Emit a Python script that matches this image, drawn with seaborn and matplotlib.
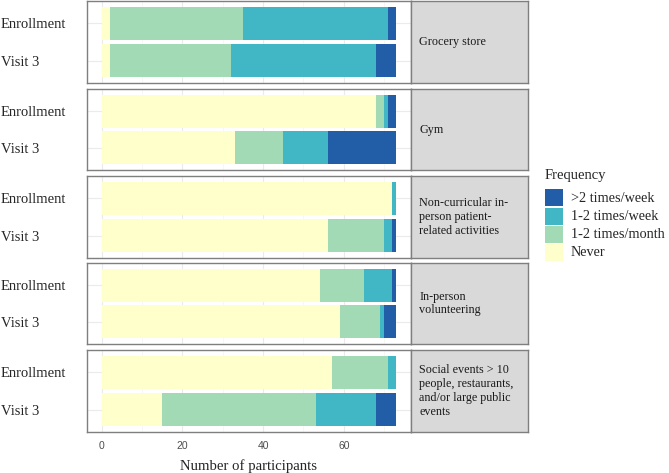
import matplotlib
matplotlib.use("Agg")
import matplotlib.pyplot as plt
import seaborn as sns
import pandas as pd
import numpy as np
from matplotlib.patches import Rectangle

sns.set_style("white")
plt.rcParams["font.family"] = ["Liberation Serif", "DejaVu Serif"]

activities = ["Grocery store", "Gym",
              "Non-curricular in-\nperson patient-\nrelated activities",
              "In-person\nvolunteering",
              "Social events > 10\npeople, restaurants,\nand/or large public\nevents"]
timepoints = ["Enrollment", "Visit 3"]
levels = ["Never", "1-2 times/month", "1-2 times/week", ">2 times/week"]
colors = ["#FFFFCC", "#A1DAB4", "#41B6C4", "#225EA8"]

# counts per activity: [Enrollment, Visit 3] for each level
never = [[2, 2], [68, 33], [72, 56], [54, 59], [57, 15]]
per_month = [[33, 30], [2, 12], [0, 14], [11, 10], [14, 38]]
per_week = [[36, 36], [1, 11], [1, 2], [7, 1], [2, 15]]
over2 = [[2, 5], [2, 17], [0, 1], [1, 3], [0, 5]]

xticks = [0, 20, 40, 60]

rows = []
for i, act in enumerate(activities):
    for j, tp in enumerate(timepoints):
        vals = [never[i][j], per_month[i][j], per_week[i][j], over2[i][j]]
        cum = np.cumsum(vals)
        for k, lev in enumerate(levels):
            rows.append(dict(activity=act, time=tp, level=lev, count=vals[k], cum=cum[k]))
df = pd.DataFrame(rows)

W, H = 669, 473
fig = plt.figure(figsize=(W / 100, H / 100), dpi=100)

panel_left, panel_right, strip_right = 87, 411, 528
panels_y = [(1, 83), (89, 170), (176, 258), (263, 344), (350, 432)]
xmax_total = df["cum"].max()
xlim = (-0.05 * xmax_total, xmax_total * 1.05)

for i, act in enumerate(activities):
    y0, y1 = panels_y[i]
    ax = fig.add_axes([panel_left / W, 1 - y1 / H, (panel_right - panel_left) / W, (y1 - y0) / H])
    sub = df[df["activity"] == act]
    for k in range(len(levels) - 1, -1, -1):
        s = sub[sub["level"] == levels[k]]
        sns.barplot(data=s, x="cum", y="time", order=timepoints, color=colors[k],
                    orient="h", width=0.9, linewidth=0, saturation=1, ax=ax, errorbar=None)
    ax.set_xlim(xlim)
    ax.set_ylim(1.6, -0.6)
    ax.set_xticks(xticks)
    ax.set_xticks([10, 30, 50, 70], minor=True)
    ax.grid(True, which="major", color="#EBEBEB", linewidth=0.8)
    ax.grid(True, which="minor", axis="x", color="#F4F4F4", linewidth=0.5)
    ax.set_axisbelow(True)
    ax.set_xlabel("")
    ax.set_ylabel("")
    for sp in ax.spines.values():
        sp.set_color("#7F7F7F")
        sp.set_linewidth(1.0)
    ax.tick_params(axis="y", length=3, color="#333333", labelsize=10.5, pad=59)
    for lab in ax.get_yticklabels():
        lab.set_horizontalalignment("left")
    ax.tick_params(axis="x", length=3 if i == 4 else 0, color="#333333", labelsize=7.5,
                   labelcolor="#4D4D4D", labelbottom=(i == 4))
    if i == 4:
        for lab in ax.get_xticklabels():
            lab.set_fontfamily(["Liberation Sans", "DejaVu Sans"])
    # strip
    sax = fig.add_axes([panel_right / W, 1 - y1 / H, (strip_right - panel_right) / W, (y1 - y0) / H])
    sax.set_facecolor("#D9D9D9")
    sax.set_xticks([])
    sax.set_yticks([])
    for sp in sax.spines.values():
        sp.set_color("#7F7F7F")
        sp.set_linewidth(1.0)
    sax.text(0.07, 0.5, act, ha="left", va="center", fontsize=8.7, linespacing=1.2,
             transform=sax.transAxes, color="#1A1A1A")

fig.text((panel_left + panel_right) / 2 / W, 1 - 466 / H, "Number of participants",
         ha="center", va="center", fontsize=10.6)

# legend
fig.text(545 / W, 1 - 176 / H, "Frequency", ha="left", va="center", fontsize=10.5)
legend_levels = list(reversed(levels))
legend_colors = list(reversed(colors))
for k, (lev, c) in enumerate(zip(legend_levels, legend_colors)):
    top = 189 + k * 18.3
    fig.patches.append(Rectangle((545 / W, 1 - (top + 17.5) / H), 18 / W, 17 / H,
                                 transform=fig.transFigure, facecolor=c, edgecolor="none"))
    fig.text(571 / W, 1 - (top + 9) / H, lev, ha="left", va="center", fontsize=10.3)

fig.savefig("out.png", dpi=100)
